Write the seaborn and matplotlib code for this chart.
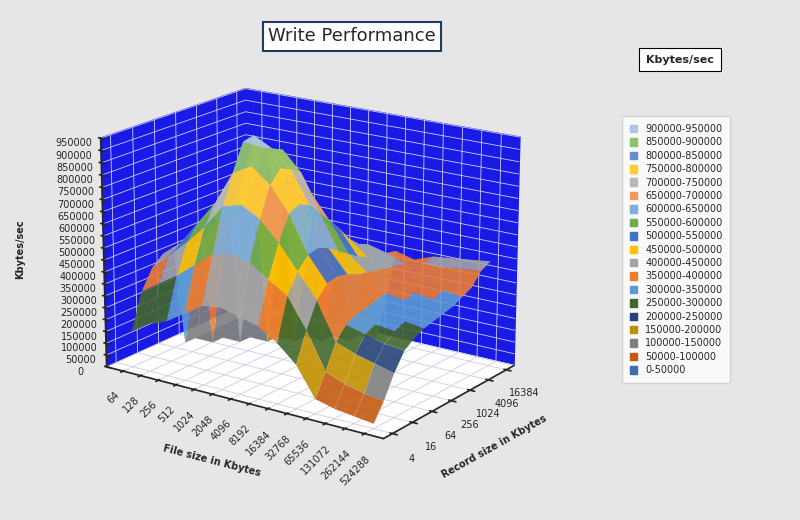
import numpy as np
import matplotlib
matplotlib.use("Agg")
import matplotlib.pyplot as plt
import seaborn as sns
from matplotlib.colors import ListedColormap, BoundaryNorm
from matplotlib.patches import Patch

sns.set_theme(style="white")
plt.rcParams['font.family'] = ['DejaVu Sans']

file_sizes = ["64", "128", "256", "512", "1024", "2048", "4096", "8192", "16384",
              "32768", "65536", "131072", "262144", "524288"]
record_sizes = ["4", "8", "16", "32", "64", "128", "256", "512", "1024",
                "2048", "4096", "8192", "16384"]

# write throughput in Kbytes/sec, rows = file size, cols = record size (0 = not measured)
write_kbs = np.array([
    [150000, 300000, 380000, 420000, 430000, 0, 0, 0, 0, 0, 0, 0, 0],
    [200000, 350000, 450000, 480000, 470000, 460000, 0, 0, 0, 0, 0, 0, 0],
    [230000, 400000, 520000, 580000, 600000, 560000, 540000, 0, 0, 0, 0, 0, 0],
    [280000, 460000, 600000, 680000, 700000, 650000, 620000, 580000, 0, 0, 0, 0, 0],
    [330000, 520000, 700000, 820000, 930000, 940000, 850000, 700000, 620000, 0, 0, 0, 0],
    [340000, 540000, 720000, 860000, 920000, 900000, 880000, 760000, 650000, 560000, 0, 0, 0],
    [320000, 520000, 680000, 800000, 850000, 830000, 800000, 700000, 600000, 520000, 470000, 0, 0],
    [300000, 470000, 600000, 700000, 720000, 700000, 650000, 600000, 550000, 490000, 450000, 430000, 0],
    [250000, 420000, 500000, 550000, 560000, 540000, 510000, 480000, 450000, 430000, 420000, 410000, 400000],
    [180000, 300000, 400000, 450000, 460000, 450000, 430000, 420000, 410000, 400000, 390000, 380000, 380000],
    [60000, 150000, 250000, 300000, 320000, 330000, 340000, 350000, 360000, 380000, 390000, 400000, 410000],
    [40000, 120000, 220000, 280000, 300000, 320000, 330000, 340000, 350000, 370000, 380000, 400000, 420000],
    [30000, 100000, 200000, 260000, 290000, 310000, 320000, 330000, 340000, 360000, 380000, 410000, 430000],
    [20000, 90000, 180000, 250000, 280000, 300000, 310000, 320000, 330000, 350000, 370000, 420000, 440000],
])

band_colors = ["#3d6fb0", "#c55a11", "#7f7f7f", "#bf9000", "#264478", "#43682b",
               "#5b9bd5", "#ed7d31", "#a5a5a5", "#ffc000", "#4472c4", "#70ad47",
               "#7cafdd", "#f1975a", "#b7b7b7", "#ffcd33", "#698ed0", "#8cc168", "#adc6e8"]
bounds = np.arange(0, 1000000, 50000)
band_labels = [f"{b}-{b + 50000}" for b in bounds[:-1]]

cmap = ListedColormap(band_colors)
norm = BoundaryNorm(bounds, cmap.N)

fig = plt.figure(figsize=(8, 5.2), dpi=100)
fig.patch.set_facecolor("#e6e6e6")
ax = fig.add_axes([0.02, 0.04, 0.72, 0.92], projection="3d")
ax.set_facecolor((0, 0, 0, 0))

X, Y = np.meshgrid(np.arange(len(file_sizes)), np.arange(len(record_sizes)), indexing="ij")
Z = write_kbs.astype(float)
face_vals = (Z[:-1, :-1] + Z[1:, :-1] + Z[:-1, 1:] + Z[1:, 1:]) / 4
fc = cmap(norm(np.clip(face_vals, 0, 949999)))
fc[..., 3] = 0.9
ax.plot_surface(X, Y, Z, facecolors=fc, shade=False, linewidth=0.2,
                edgecolor=(1, 1, 1, 0.15), rstride=1, cstride=1)

ax.xaxis.set_pane_color((0.1, 0.1, 0.9, 1.0))
ax.yaxis.set_pane_color((0.1, 0.1, 0.9, 1.0))
ax.zaxis.set_pane_color((1.0, 1.0, 1.0, 1.0))
for a in (ax.xaxis, ax.yaxis, ax.zaxis):
    a._axinfo["grid"]["color"] = (0.8, 0.8, 0.9, 1)
    a._axinfo["grid"]["linewidth"] = 0.6
# put the value axis on the left side, like the reference
ax.zaxis._axinfo["juggled"] = (1, 2, 0)

ax.set_xticks(np.arange(len(file_sizes)))
ax.set_xticklabels(file_sizes, fontsize=7, rotation=45)
ax.set_yticks(np.arange(0, len(record_sizes), 2))
ax.set_yticklabels(record_sizes[::2], fontsize=7)
ax.set_zticks(np.arange(0, 1000000, 50000))
ax.set_zticklabels([str(v) for v in range(0, 1000000, 50000)], fontsize=7)
ax.set_zlim(0, 950000)
ax.set_xlabel("File size in Kbytes", fontsize=7, fontweight="bold", labelpad=14)
ax.set_ylabel("Record size in Kbytes", fontsize=7, fontweight="bold", labelpad=6)
ax.view_init(elev=18, azim=-55)
ax.set_box_aspect((1.4, 1.0, 1.0), zoom=0.97)

fig.text(0.025, 0.52, "Kbytes/sec", fontsize=7, fontweight="bold", rotation=90,
         ha="center", va="center")
fig.text(0.44, 0.93, "Write Performance", fontsize=13, ha="center", va="center",
         bbox=dict(boxstyle="square,pad=0.3", fc="white", ec="#1f3864", lw=1.5))
fig.text(0.85, 0.885, "Kbytes/sec", fontsize=8, fontweight="bold", ha="center", va="center",
         bbox=dict(boxstyle="square,pad=0.6", fc="white", ec="black", lw=0.8))

handles = [Patch(color=c, label=l) for c, l in zip(band_colors, band_labels)][::-1]
leg = fig.legend(handles=handles, loc="center", bbox_to_anchor=(0.845, 0.52),
                 fontsize=7, frameon=True, handlelength=0.8, handleheight=0.8,
                 labelspacing=0.35, borderpad=0.8)
leg.get_frame().set_facecolor("white")
leg.get_frame().set_edgecolor("#cccccc")

fig.savefig("out.png", dpi=100, facecolor=fig.get_facecolor())
